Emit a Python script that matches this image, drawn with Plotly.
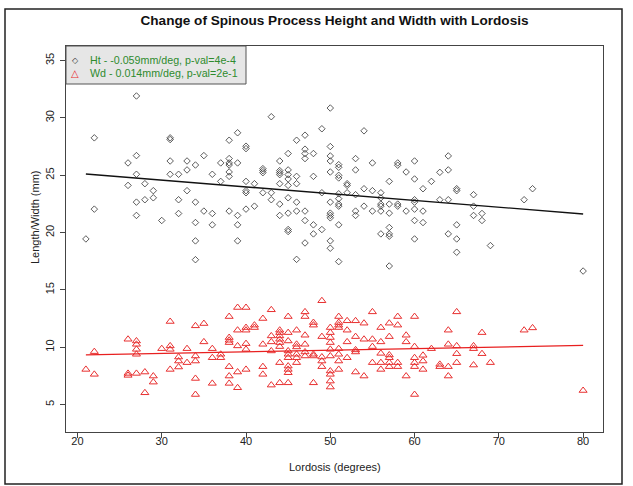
import plotly.graph_objects as go

# ---------------- text ----------------
chart_title = "Change of Spinous Process Height and Width with Lordosis"
x_label = "Lordosis (degrees)"
y_label = "Length/Width (mm)"
legend_ht = "Ht - -0.059mm/deg, p-val=4e-4"
legend_wd = "Wd - 0.014mm/deg, p-val=2e-1"
x_ticks = [20, 30, 40, 50, 60, 70, 80]
y_ticks = [5, 10, 15, 20, 25, 30, 35]

# ---------------- data: spinous process height (black diamonds) ----------------
ht_lordosis = [21, 22, 26, 27, 28, 29, 30, 31, 32, 33, 34, 35, 36, 37, 38, 39, 40,
               41, 42, 43, 44, 45, 46, 47, 48, 49, 50, 51, 52, 53, 54, 55, 56, 57,
               58, 59, 60, 61, 62, 63, 64, 65, 67, 68, 69, 73, 74, 80]
ht_values = [
    [19.44], [28.26, 22.04], [26.07, 24.11], [31.91, 26.71, 25.08, 22.65, 21.49],
    [24.26, 22.86], [23.65, 23.03], [21.05], [28.26, 28.11, 26.24, 25.08],
    [25.08, 22.86, 21.66], [26.24, 25.46, 23.65], [25.89, 22.65, 20.87, 19.27, 17.63],
    [26.71, 21.87], [25.08, 21.66, 20.67], [26.07, 24.46],
    [28.05, 26.45, 26.07, 25.89, 25.28, 24.90, 21.87], [28.70, 26.07, 21.49, 20.67, 19.27],
    [27.53, 27.32, 24.46, 23.65, 23.47, 22.04], [24.26, 22.30], [25.57, 25.40, 25.22, 23.47],
    [30.10, 23.47, 22.86], [26.24, 25.40, 25.22, 25.05, 24.26, 22.48, 21.49],
    [26.89, 25.46, 25.05, 24.67, 24.11, 23.03, 21.69, 20.26, 20.09],
    [28.05, 24.90, 24.26, 22.65, 21.87, 17.66], [28.49, 27.27, 26.89, 26.45, 21.87, 21.05, 19.09],
    [26.89, 24.90, 20.67, 19.88], [29.05, 23.47, 20.26],
    [30.86, 27.50, 26.68, 26.24, 25.28, 22.65, 21.69, 21.49, 21.28, 19.27, 18.63],
    [25.92, 25.69, 24.99, 24.76, 23.38, 22.95, 22.48, 22.30, 20.67, 17.46],
    [24.26, 24.11, 23.47], [26.45, 25.46, 23.30, 21.87, 21.49], [28.87, 23.82, 22.30],
    [26.07, 23.65, 21.87], [23.47, 23.03, 22.48, 22.30, 21.87, 19.88],
    [24.46, 22.48, 21.69, 20.44, 19.88, 19.68, 17.08], [26.07, 25.87, 22.48, 22.30],
    [25.28, 21.87], [26.24, 24.67, 22.86, 22.65, 22.04, 21.05, 19.44], [23.82, 21.87, 20.87],
    [24.46], [25.25, 22.86], [26.68, 25.46, 22.86, 19.88], [23.82, 23.65, 20.67, 19.44, 18.28],
    [23.30, 22.30, 21.49], [21.66, 21.05], [18.86], [22.86], [23.82], [16.64],
]

# ---------------- data: spinous process width (red triangles) ----------------
wd_lordosis = [21, 22, 26, 27, 28, 29, 30, 31, 32, 33, 34, 35, 36, 37, 38, 39, 40,
               41, 42, 43, 44, 45, 46, 47, 48, 49, 50, 51, 52, 53, 54, 55, 56, 57,
               58, 59, 60, 61, 62, 63, 64, 65, 67, 68, 69, 73, 74, 80]
wd_values = [
    [8.06], [9.61, 7.63], [10.69, 7.71, 7.54], [10.54, 10.25, 9.81, 9.38, 7.71],
    [7.83, 6.02], [7.48, 6.95], [9.87], [12.24, 10.11, 9.81, 8.06], [9.14, 8.79, 8.27],
    [9.87, 8.65], [11.86, 9.23, 8.79, 7.27, 5.87], [12.06, 10.46], [9.87, 9.08, 6.84],
    [9.38, 9.08], [12.67, 10.84, 10.60, 10.40, 8.30, 7.48, 6.84],
    [13.46, 11.48, 10.11, 7.83, 6.46], [13.46, 11.71, 11.48, 10.31, 9.81, 8.06],
    [11.92, 11.71], [12.50, 10.25, 8.30, 7.63], [13.26, 10.98, 10.46, 9.67, 6.69],
    [11.48, 11.27, 10.98, 10.69, 10.40, 10.05, 8.65, 6.89],
    [12.67, 11.27, 10.54, 9.67, 9.38, 9.08, 8.35, 8.06, 7.77, 6.89],
    [11.48, 10.25, 10.02, 9.38, 9.08, 8.65], [13.08, 12.67, 11.04, 10.25, 9.58, 9.23],
    [12.15, 11.92, 9.38, 9.23, 6.89], [14.05, 10.92, 9.14, 8.79, 8.30],
    [11.71, 11.27, 10.84, 10.40, 9.81, 9.23, 7.92, 7.63, 7.04, 6.52],
    [12.67, 12.15, 11.92, 11.71, 9.87, 9.38, 8.79, 8.06], [12.30, 11.48, 10.46, 9.08],
    [12.30, 10.92, 9.76, 9.58, 7.83], [12.09, 10.69, 7.48], [13.08, 10.69, 10.05, 8.65],
    [11.71, 10.46, 9.46, 8.65, 8.06], [12.09, 10.92, 9.32, 9.08, 8.65, 8.30],
    [12.67, 11.92, 8.65, 8.30], [11.04, 10.46, 7.48], [12.67, 10.05, 9.08, 8.65, 8.30, 5.87],
    [9.29, 8.79, 8.06], [9.87], [8.50, 8.30], [11.48, 10.25, 8.30, 7.48],
    [13.08, 10.11, 9.43, 8.65], [10.11, 9.87, 8.44], [11.27, 9.43], [8.65], [11.48],
    [11.68], [6.22],
]

# regression fits (intercept, slope)
ht_fit = (26.34, -0.059)
wd_fit = (9.03, 0.014)


def flatten(cols, vals):
    xs, ys = [], []
    for c, vs in zip(cols, vals):
        for v in vs:
            xs.append(c)
            ys.append(v)
    return xs, ys


hx, hy = flatten(ht_lordosis, ht_values)
wx, wy = flatten(wd_lordosis, wd_values)

FONT = "Liberation Sans, Arial, sans-serif"

fig = go.Figure()
fig.add_trace(go.Scatter(
    x=hx, y=hy, mode="markers", showlegend=False,
    marker=dict(symbol="diamond-open", size=5, color="#333333", line=dict(width=0.8, color="#333333")),
))
fig.add_trace(go.Scatter(
    x=wx, y=wy, mode="markers", showlegend=False,
    marker=dict(symbol="triangle-up-open", size=7, color="#e83030", line=dict(width=1, color="#e83030")),
))
hxl = [min(hx), max(hx)]
fig.add_trace(go.Scatter(
    x=hxl, y=[ht_fit[0] + ht_fit[1] * v for v in hxl], mode="lines", showlegend=False,
    line=dict(color="#111111", width=1.4),
))
wxl = [min(wx), max(wx)]
fig.add_trace(go.Scatter(
    x=wxl, y=[wd_fit[0] + wd_fit[1] * v for v in wxl], mode="lines", showlegend=False,
    line=dict(color="#e82020", width=1.2),
))

W, H = 633, 486
L, R, T, B = 66, 30, 46, 54
pw, ph = W - L - R, H - T - B


def px(xp):
    return (xp - L) / pw


def py(yp):
    return (H - B - yp) / ph


axis_common = dict(
    showgrid=False, zeroline=False, showline=True, mirror=True,
    linecolor="#444444", linewidth=1, ticks="outside", ticklen=5,
    tickcolor="#444444", tickfont=dict(family=FONT, size=11, color="#222222"),
)

fig.update_layout(
    width=W, height=H,
    margin=dict(l=L, r=R, t=T, b=B),
    paper_bgcolor="white", plot_bgcolor="white",
    showlegend=False,
    title=dict(text="<b>" + chart_title + "</b>", x=0.5, xref="paper", xanchor="center",
               y=1 - 20 / H, yref="container", yanchor="middle",
               font=dict(family=FONT, size=13.6, color="#111111")),
    xaxis=dict(range=[18.64, 82.36], tickvals=x_ticks, ticklabelstandoff=-6, **axis_common),
    yaxis=dict(range=[2.6, 36.27], tickvals=y_ticks, tickangle=-90, ticklabelstandoff=2, **axis_common),
    shapes=[
        dict(type="rect", xref="paper", yref="paper", x0=px(5), x1=px(622), y0=py(484), y1=py(9),
             line=dict(color="#222222", width=1.5), fillcolor="rgba(0,0,0,0)", layer="above"),
        dict(type="rect", xref="paper", yref="paper", x0=0, x1=px(246), y0=py(84), y1=1,
             line=dict(color="#555555", width=1), fillcolor="#e6e6e6", layer="above"),
    ],
    annotations=[
        dict(text="◇", x=px(75), y=py(60), xref="paper", yref="paper", showarrow=False,
             xanchor="center", yanchor="middle", font=dict(family="DejaVu Sans", size=8, color="#333333")),
        dict(text="△", x=px(75), y=py(73), xref="paper", yref="paper", showarrow=False,
             xanchor="center", yanchor="middle", font=dict(family="DejaVu Sans", size=10, color="#e83030")),
        dict(text=legend_ht, x=px(88), y=py(60), xref="paper", yref="paper", showarrow=False,
             xanchor="left", yanchor="middle", font=dict(family=FONT, size=10.7, color="#2e8b2e")),
        dict(text=legend_wd, x=px(88), y=py(73), xref="paper", yref="paper", showarrow=False,
             xanchor="left", yanchor="middle", font=dict(family=FONT, size=10.7, color="#2e8b2e")),
        dict(text=x_label, x=0.5, y=py(467), xref="paper", yref="paper", showarrow=False,
             xanchor="center", yanchor="middle", font=dict(family=FONT, size=11, color="#222222")),
        dict(text=y_label, x=px(35), y=py(217), xref="paper", yref="paper", showarrow=False,
             textangle=-90, xanchor="center", yanchor="middle",
             font=dict(family=FONT, size=11, color="#222222")),
    ],
)

fig.write_html("out.html", config={"displayModeBar": False},
               post_script="document.body.style.margin='0';document.body.style.overflow='hidden';")
